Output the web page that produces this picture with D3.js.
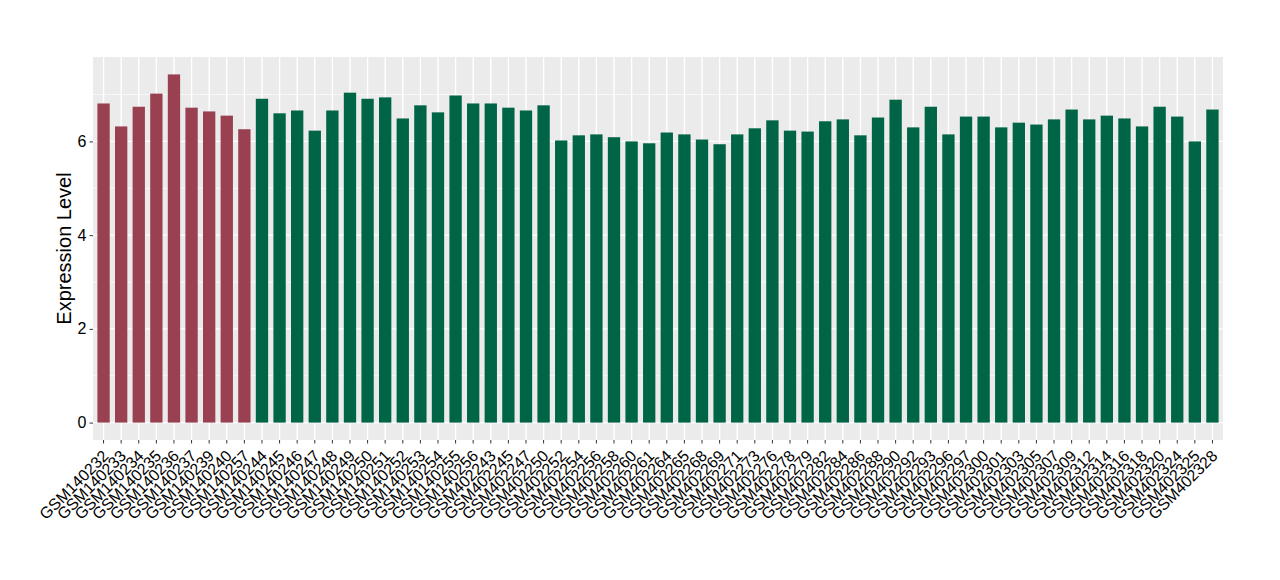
<!DOCTYPE html>
<html>
<head>
<meta charset="utf-8">
<script src="https://cdn.jsdelivr.net/npm/d3@7"></script>
<style>
  body { margin: 0; background: #fff; }
  text { font-family: "Liberation Sans", Arial, sans-serif; }
</style>
</head>
<body>
<div id="dataViz"></div>
<script>
// sample names and expression values
let samples = [
    "GSM140232", "GSM140233", "GSM140234", "GSM140235", "GSM140236", "GSM140237", "GSM140239", "GSM140240", "GSM140257",
    "GSM140244", "GSM140245", "GSM140246", "GSM140247", "GSM140248", "GSM140249", "GSM140250", "GSM140251", "GSM140252",
    "GSM140253", "GSM140254", "GSM140255", "GSM140256",
    "GSM402243", "GSM402245", "GSM402247", "GSM402250", "GSM402252", "GSM402254", "GSM402256", "GSM402258", "GSM402260",
    "GSM402261", "GSM402264", "GSM402265", "GSM402268", "GSM402269", "GSM402271", "GSM402273", "GSM402276", "GSM402278",
    "GSM402279", "GSM402282", "GSM402284", "GSM402286", "GSM402288", "GSM402290", "GSM402292", "GSM402293", "GSM402296",
    "GSM402297", "GSM402300", "GSM402301", "GSM402303", "GSM402305", "GSM402307", "GSM402309", "GSM402312", "GSM402314",
    "GSM402316", "GSM402318", "GSM402320", "GSM402324", "GSM402325", "GSM402328"
];
let values = [
    6.81, 6.32, 6.74, 7.02, 7.43, 6.72, 6.64, 6.55, 6.26,
    6.91, 6.60, 6.66, 6.23, 6.66, 7.04, 6.91, 6.94, 6.49,
    6.77, 6.62, 6.98, 6.81,
    6.81, 6.72, 6.66, 6.77, 6.02, 6.13, 6.15, 6.09, 6.00,
    5.96, 6.19, 6.15, 6.04, 5.94, 6.15, 6.28, 6.45, 6.23,
    6.21, 6.43, 6.47, 6.13, 6.51, 6.89, 6.30, 6.74, 6.15,
    6.53, 6.53, 6.30, 6.40, 6.36, 6.47, 6.68, 6.47, 6.55,
    6.49, 6.32, 6.74, 6.53, 6.00, 6.68
];
// first 9 samples are one group, the rest the other
let groups = samples.map(function (d, i) { return i < 9 ? "a" : "b"; });
let yTicks = [0, 2, 4, 6];
let yMinor = [1, 3, 5, 7];

let colors = { a: "#994150", b: "#006446" };

let margin = { top: 57, right: 57, bottom: 140, left: 93 },
    width = 1280 - margin.left - margin.right,
    height = 580 - margin.top - margin.bottom;

let data = samples.map(function (s, i) { return { name: s, value: values[i], group: groups[i] }; });

let svg = d3.select("#dataViz")
    .append("svg")
    .attr("width", 1280)
    .attr("height", 580)
    .append("g")
    .attr("transform", "translate(" + margin.left + "," + margin.top + ")");

// x scale, ggplot style expansion of 0.6 band on each side
let x = d3.scaleBand()
    .domain(samples)
    .range([0, width])
    .paddingInner(0.3)
    .paddingOuter(0.25);

let yMax = d3.max(values);
let y = d3.scaleLinear()
    .domain([-yMax * 0.05, yMax * 1.05])
    .range([height, 0]);

// panel
svg.append("rect")
    .attr("width", width)
    .attr("height", height)
    .attr("fill", "#EBEBEB");

// grid lines
svg.selectAll(".minor")
    .data(yMinor)
    .enter()
    .append("line")
    .attr("x1", 0).attr("x2", width)
    .attr("y1", function (d) { return y(d); })
    .attr("y2", function (d) { return y(d); })
    .attr("stroke", "#fff")
    .attr("stroke-width", 0.7);

svg.selectAll(".major")
    .data(yTicks)
    .enter()
    .append("line")
    .attr("x1", 0).attr("x2", width)
    .attr("y1", function (d) { return y(d); })
    .attr("y2", function (d) { return y(d); })
    .attr("stroke", "#fff")
    .attr("stroke-width", 1.4);

svg.selectAll(".vgrid")
    .data(samples)
    .enter()
    .append("line")
    .attr("x1", function (d) { return x(d) + x.bandwidth() / 2; })
    .attr("x2", function (d) { return x(d) + x.bandwidth() / 2; })
    .attr("y1", 0).attr("y2", height)
    .attr("stroke", "#fff")
    .attr("stroke-width", 1.4);

// bars
svg.selectAll(".bar")
    .data(data)
    .enter()
    .append("rect")
    .attr("x", function (d) { return x(d.name); })
    .attr("width", x.bandwidth())
    .attr("y", function (d) { return y(d.value); })
    .attr("height", function (d) { return y(0) - y(d.value); })
    .attr("fill", function (d) { return colors[d.group]; });

// Y axis
let yAxis = svg.append("g")
    .call(d3.axisLeft(y).tickValues(yTicks).tickSize(3.5).tickPadding(3).tickSizeOuter(0));
yAxis.select(".domain").remove();
yAxis.selectAll("line").attr("stroke", "#333");
yAxis.selectAll("text")
    .attr("fill", "#000")
    .style("font-size", "16px")
    .style("font-family", "Liberation Sans, Arial, sans-serif");

// X axis
let xAxis = svg.append("g")
    .attr("transform", "translate(0," + height + ")")
    .call(d3.axisBottom(x).tickSize(3.5).tickSizeOuter(0));
xAxis.select(".domain").remove();
xAxis.selectAll("line").attr("stroke", "#333");
xAxis.selectAll("text")
    .attr("fill", "#000")
    .style("font-size", "16px")
    .style("font-family", "Liberation Sans, Arial, sans-serif")
    .style("text-anchor", "end")
    .attr("y", 0)
    .attr("dy", "0")
    .attr("transform", "translate(6,17) rotate(-45)");

// Y title
svg.append("text")
    .attr("transform", "translate(-22," + (height / 2) + ") rotate(-90)")
    .attr("text-anchor", "middle")
    .style("font-size", "20px")
    .attr("fill", "#000")
    .text("Expression Level");
</script>
</body>
</html>
